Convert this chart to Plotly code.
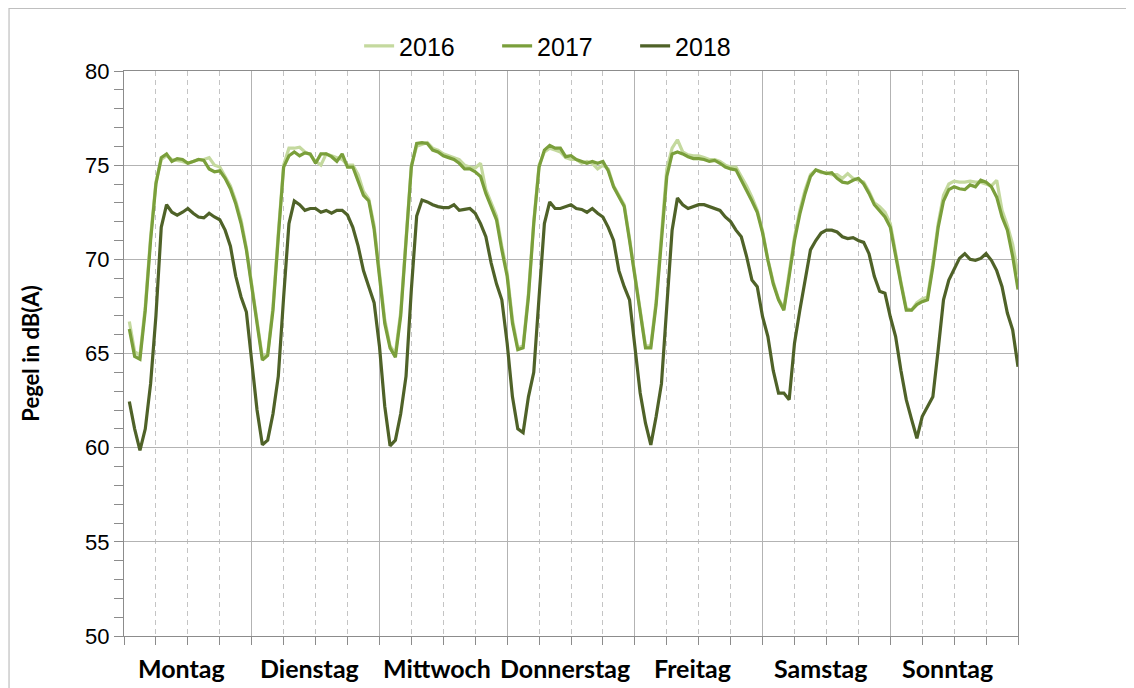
import plotly.graph_objects as go

days = ["Montag", "Dienstag", "Mittwoch", "Donnerstag", "Freitag", "Samstag", "Sonntag"]
hours = list(range(1, 169))

pegel_2016 = [
    66.7, 65.1, 64.9, 67.5, 71.2, 74.1, 75.3, 75.5, 75.3, 75.25, 75.2, 75.1, 75.2, 75.3, 75.3, 75.4, 75.0, 74.9, 74.4, 73.9, 73.1, 72.1, 70.6, 68.6,
    66.6, 64.8, 65.0, 67.5, 71.4, 75.0, 75.9, 75.9, 75.95, 75.7, 75.55, 75.2, 75.0, 75.6, 75.5, 75.4, 75.3, 75.0, 75.0, 74.5, 73.6, 73.2, 71.8, 69.3,
    66.8, 65.4, 65.0, 67.2, 71.2, 75.0, 76.0, 76.1, 76.2, 75.9, 75.8, 75.6, 75.5, 75.4, 75.3, 75.0, 74.9, 74.85, 75.1, 73.7, 73.0, 72.3, 70.7, 69.3,
    66.8, 65.3, 65.4, 68.2, 72.0, 75.0, 75.7, 75.9, 75.8, 75.7, 75.4, 75.3, 75.3, 75.1, 75.2, 75.1, 74.8, 75.0, 74.8, 73.9, 73.4, 72.9, 71.1, 69.2,
    67.1, 65.4, 65.4, 67.8, 71.3, 74.8, 75.9, 76.35, 75.7, 75.55, 75.5, 75.5, 75.4, 75.3, 75.3, 75.2, 75.0, 74.9, 74.9, 74.4, 73.9, 73.3, 72.6, 71.5,
    70.0, 68.8, 67.9, 67.4, 69.2, 71.2, 72.6, 73.7, 74.5, 74.75, 74.6, 74.6, 74.5, 74.5, 74.3, 74.55, 74.3, 74.2, 74.1, 73.6, 73.0, 72.8, 72.5, 71.9,
    70.3, 68.8, 67.4, 67.3, 67.7, 67.9, 68.0, 69.8, 71.9, 73.4, 74.0, 74.15, 74.1, 74.1, 74.15, 74.1, 74.1, 74.0, 73.9, 74.2, 72.6, 71.8, 70.8, 69.2,
]

pegel_2017 = [
    66.3, 64.85, 64.7, 67.3, 71.0, 74.0, 75.4, 75.6, 75.2, 75.35, 75.3, 75.1, 75.2, 75.3, 75.25, 74.8, 74.65, 74.7, 74.3, 73.75, 72.95, 71.9, 70.5, 68.55,
    66.5, 64.65, 64.9, 67.3, 71.2, 74.9, 75.5, 75.7, 75.5, 75.65, 75.6, 75.1, 75.6, 75.6, 75.45, 75.2, 75.6, 74.9, 74.9, 74.2, 73.4, 73.1, 71.6, 69.1,
    66.6, 65.3, 64.8, 67.0, 71.0, 74.9, 76.15, 76.2, 76.15, 75.8, 75.7, 75.5, 75.4, 75.3, 75.1, 74.8, 74.8, 74.65, 74.4, 73.5, 72.8, 72.1, 70.5, 69.1,
    66.6, 65.2, 65.3, 68.0, 71.9, 74.9, 75.8, 76.05, 75.9, 75.9, 75.45, 75.5, 75.3, 75.2, 75.1, 75.2, 75.1, 75.2, 74.7, 73.85, 73.3, 72.8, 71.0, 69.1,
    67.0, 65.3, 65.3, 67.6, 71.0, 74.4, 75.6, 75.7, 75.6, 75.45, 75.35, 75.35, 75.3, 75.2, 75.25, 75.1, 74.9, 74.8, 74.75, 74.2, 73.7, 73.1, 72.5, 71.4,
    69.95, 68.7, 67.85, 67.3, 69.1, 71.0, 72.4, 73.5, 74.4, 74.75, 74.65, 74.55, 74.6, 74.3, 74.1, 74.05, 74.2, 74.3, 74.0, 73.5, 72.9, 72.6, 72.25, 71.7,
    70.15, 68.7, 67.3, 67.3, 67.6, 67.75, 67.85, 69.6, 71.7, 73.1, 73.7, 73.85, 73.75, 73.7, 73.95, 73.85, 74.2, 74.1, 73.85, 73.3, 72.25, 71.55, 70.15, 68.4,
]

pegel_2018 = [
    62.45, 61.0, 59.85, 61.0, 63.4, 67.0, 71.7, 72.9, 72.5, 72.35, 72.5, 72.7, 72.45, 72.25, 72.2, 72.45, 72.25, 72.1, 71.55, 70.7, 69.1, 68.0, 67.2, 64.5,
    62.0, 60.15, 60.4, 61.8, 63.8, 68.0, 71.9, 73.1, 72.9, 72.6, 72.7, 72.7, 72.5, 72.6, 72.45, 72.6, 72.6, 72.35, 71.7, 70.7, 69.4, 68.55, 67.7, 65.4,
    62.2, 60.1, 60.4, 61.8, 63.8, 68.4, 72.3, 73.15, 73.05, 72.9, 72.8, 72.75, 72.75, 72.9, 72.6, 72.65, 72.7, 72.45, 71.9, 71.2, 69.8, 68.7, 67.85, 65.55,
    62.7, 61.0, 60.8, 62.7, 64.0, 68.0, 71.9, 73.05, 72.7, 72.7, 72.8, 72.9, 72.7, 72.65, 72.5, 72.7, 72.45, 72.25, 71.7, 71.0, 69.4, 68.55, 67.85, 65.4,
    62.9, 61.3, 60.15, 61.65, 63.4, 67.5, 71.55, 73.25, 72.9, 72.7, 72.8, 72.9, 72.9, 72.8, 72.7, 72.6, 72.25, 72.0, 71.55, 71.2, 70.15, 68.9, 68.55, 66.95,
    65.9, 64.1, 62.9, 62.9, 62.55, 65.55, 67.3, 68.9, 70.5, 71.0, 71.4, 71.55, 71.55, 71.45, 71.2, 71.1, 71.15, 71.0, 70.9, 70.3, 69.1, 68.3, 68.2, 66.95,
    65.9, 64.1, 62.55, 61.5, 60.5, 61.65, 62.2, 62.7, 65.2, 67.85, 68.9, 69.5, 70.05, 70.3, 70.0, 69.95, 70.05, 70.3, 69.95, 69.4, 68.55, 67.15, 66.25, 64.3,
]

series = [("2016", pegel_2016, "#c4d99e"), ("2017", pegel_2017, "#7a9f3b"), ("2018", pegel_2018, "#4f6228")]

fig = go.Figure()
for name, vals, col in series:
    fig.add_trace(go.Scatter(x=hours[:len(vals)], y=vals, mode="lines", name=name,
                             line=dict(color=col, width=3.2)))

# day labels under the axis
for i, d in enumerate(days):
    fig.add_annotation(x=24 * i + 10.8, xref="x", y=-0.057, yref="paper", text="<b>%s</b>" % d,
                       showarrow=False, yanchor="middle", xanchor="center",
                       font=dict(family="Lato", size=25, color="#000000"))

# outer chart border
fig.add_shape(type="rect", xref="paper", yref="paper", x0=-0.1286, x1=1.1245, y0=-0.2, y1=1.1106,
              line=dict(color="#bfbfbf", width=1.2), fillcolor="rgba(0,0,0,0)", layer="below")

fig.update_layout(
    width=1134, height=688,
    margin=dict(l=115.5, r=124.3, t=63, b=60),
    paper_bgcolor="white", plot_bgcolor="white",
    font=dict(family="Liberation Sans", color="#000000"),
    showlegend=True,
    legend=dict(orientation="h", x=0.263, xanchor="left", y=1.044, yanchor="middle",
                entrywidth=93, entrywidthmode="pixels",
                font=dict(family="Liberation Sans", size=25, color="#000000"),
                tracegroupgap=0, bgcolor="rgba(0,0,0,0)"),
    xaxis=dict(range=[0, 168], tickmode="linear", tick0=0, dtick=24, showticklabels=False,
               ticks="outside", ticklen=8, tickcolor="#8c8c8c", tickwidth=1,
               showgrid=True, gridcolor="#b3b3b3", gridwidth=1,
               showline=True, linecolor="#8c8c8c", linewidth=1, mirror=True,
               zeroline=False,
               minor=dict(tickmode="linear", tick0=0, dtick=6, ticks="outside", ticklen=8,
                          tickcolor="#8c8c8c", showgrid=True, gridcolor="#c4c4c4",
                          griddash="5px,4px", gridwidth=1)),
    yaxis=dict(range=[50, 80], tickmode="linear", tick0=50, dtick=5,
               ticks="outside", ticklen=9, tickcolor="#8c8c8c",
               showgrid=True, gridcolor="#b3b3b3", gridwidth=1,
               showline=True, linecolor="#8c8c8c", linewidth=1, mirror=True,
               zeroline=False,
               tickfont=dict(family="Liberation Sans", size=22, color="#000000"),
               title=dict(text="<b>Pegel in dB(A)</b>", standoff=39,
                          font=dict(family="Lato", size=22, color="#000000")),
               minor=dict(tickmode="linear", tick0=50, dtick=1, ticks="outside", ticklen=9,
                          tickcolor="#8c8c8c", showgrid=False)),
)

fig.write_html("out.html")
